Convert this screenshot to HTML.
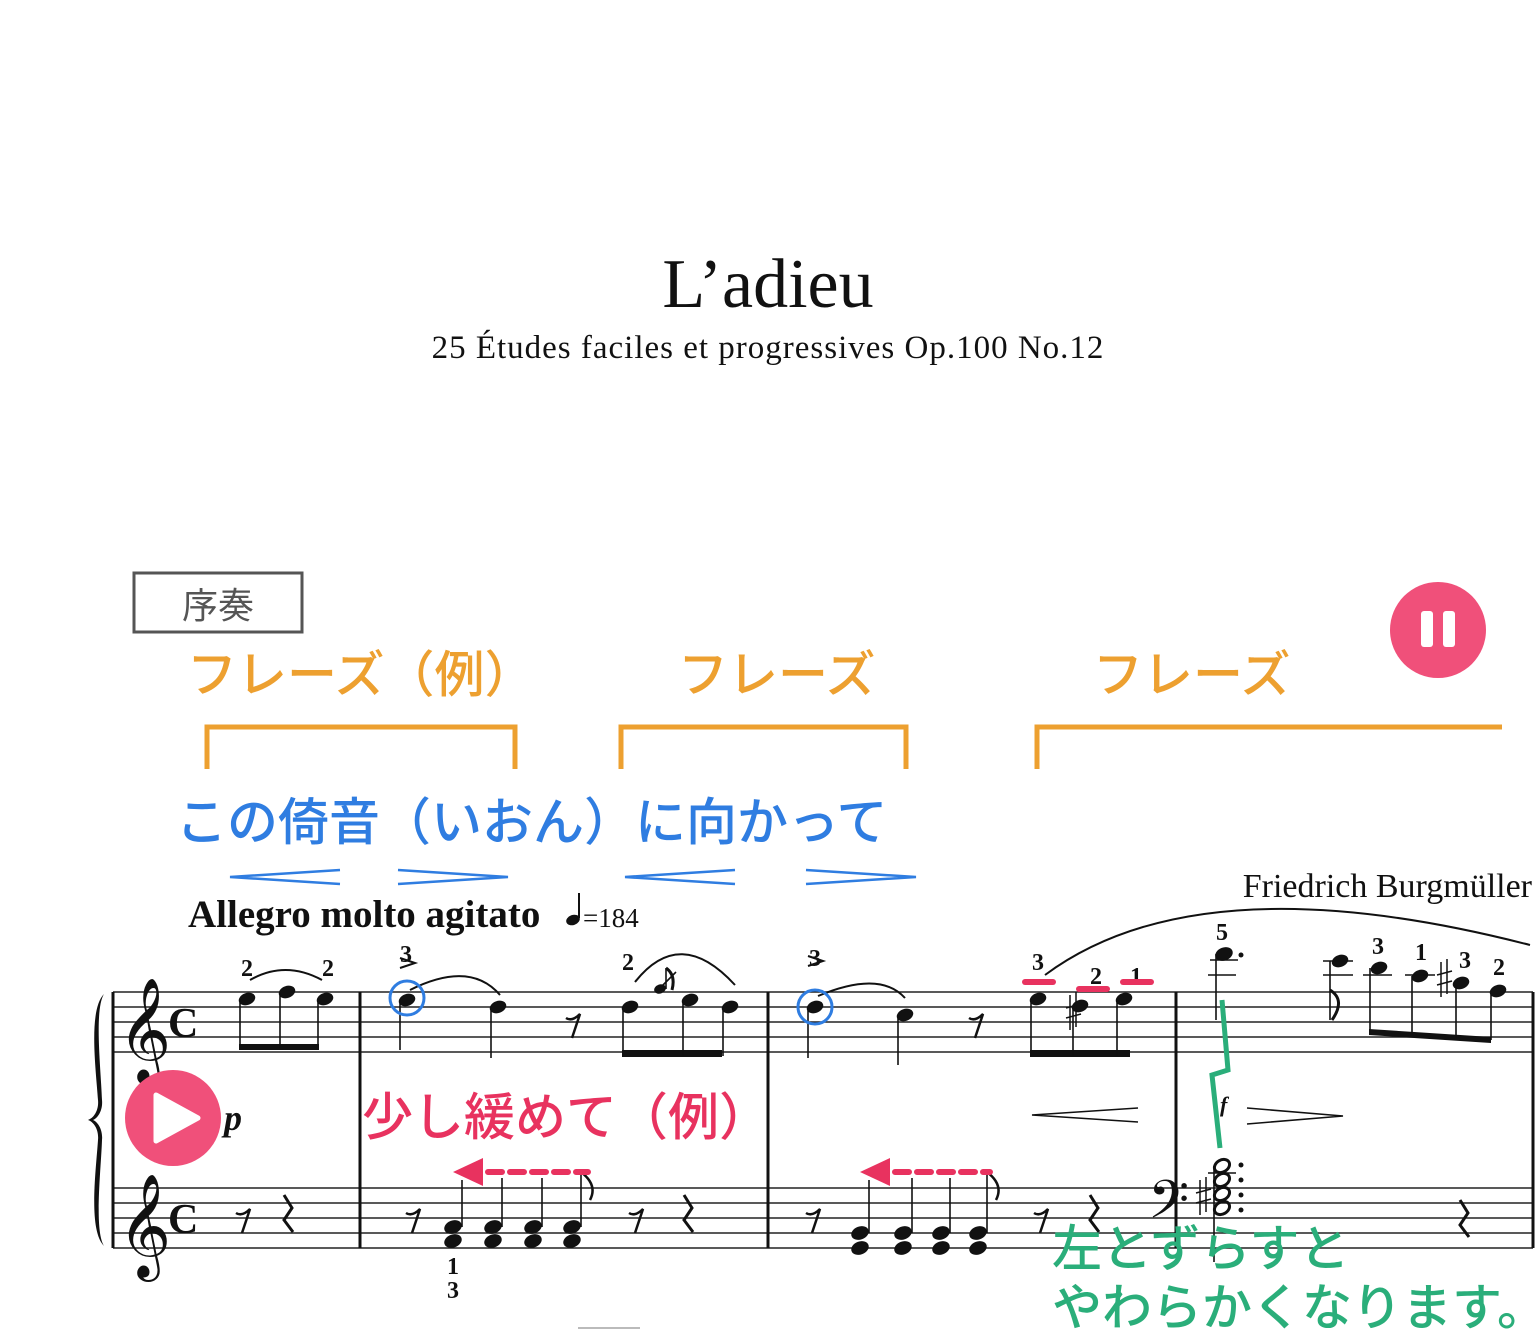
<!DOCTYPE html>
<html><head><meta charset="utf-8"><style>
html,body{margin:0;padding:0;background:#fff;}
svg{display:block;}
.s{font-family:"Liberation Serif",serif;}
.j{font-family:"Liberation Sans","Noto Sans CJK JP",sans-serif;}
.fg{font-family:"Liberation Serif",serif;font-weight:bold;font-size:24px;}
</style></head><body>
<svg width="1536" height="1329" viewBox="0 0 1536 1329" xmlns="http://www.w3.org/2000/svg">
<text x="768" y="307" class="s" font-size="70" text-anchor="middle" fill="#111">L’adieu</text>
<text x="768" y="358" class="s" font-size="33" text-anchor="middle" fill="#111" letter-spacing="1">25 Études faciles et progressives Op.100 No.12</text>

<rect x="134" y="573" width="168" height="59" fill="none" stroke="#555" stroke-width="3"/>
<text x="218" y="618" class="j" font-size="36" text-anchor="middle" fill="#555">序奏</text>

<circle cx="1438" cy="630" r="48" fill="#f0507a"/>
<rect x="1421" y="611" width="12" height="36" rx="3" fill="#fff"/>
<rect x="1443" y="611" width="12" height="36" rx="3" fill="#fff"/>

<g class="j" font-size="50" fill="#eda030" font-weight="500">
<text x="187" y="692">フレーズ（例）</text>
<text x="678" y="692">フレーズ</text>
<text x="1093" y="692">フレーズ</text>
</g>
<g fill="none" stroke="#eda030" stroke-width="5">
<path d="M207 769V727H515V769"/>
<path d="M621 769V727H906V769"/>
<path d="M1037 769V727H1502"/>
</g>

<text x="176" y="840" class="j" font-size="51" fill="#2f7de1" font-weight="500">この倚音（いおん）に向かって</text>
<g fill="none" stroke="#2f7de1" stroke-width="2.5">
<path d="M340 870L230 877L340 884"/>
<path d="M398 870L508 877L398 884"/>
<path d="M735 870L625 877L735 884"/>
<path d="M806 870L916 877L806 884"/>
</g>

<text x="188" y="927" class="s" font-size="39" font-weight="bold" fill="#111">Allegro molto agitato</text>
<ellipse cx="573" cy="920" rx="7" ry="5" fill="#111" transform="rotate(-20 573 920)"/>
<line x1="579" y1="918" x2="579" y2="893" stroke="#111" stroke-width="2"/>
<text x="583" y="927" class="s" font-size="27" fill="#111">=184</text>
<text x="1532" y="897" class="s" font-size="34" text-anchor="end" fill="#111">Friedrich Burgmüller</text>

<g stroke="#222" stroke-width="1.6">
<line x1="113" y1="992" x2="1533" y2="992"/><line x1="113" y1="1007" x2="1533" y2="1007"/>
<line x1="113" y1="1022" x2="1533" y2="1022"/><line x1="113" y1="1037" x2="1533" y2="1037"/>
<line x1="113" y1="1052" x2="1533" y2="1052"/>
<line x1="113" y1="1188" x2="1533" y2="1188"/><line x1="113" y1="1203" x2="1533" y2="1203"/>
<line x1="113" y1="1218" x2="1533" y2="1218"/><line x1="113" y1="1233" x2="1533" y2="1233"/>
<line x1="113" y1="1248" x2="1533" y2="1248"/>
</g>
<g stroke="#111" stroke-width="3">
<line x1="113" y1="992" x2="113" y2="1248"/>
<line x1="360" y1="992" x2="360" y2="1248"/>
<line x1="768" y1="992" x2="768" y2="1248"/>
<line x1="1176" y1="992" x2="1176" y2="1248"/>
<line x1="1533" y1="992" x2="1533" y2="1248"/>
</g>
<path d="M104 994C88 1010 96 1070 98 1100C99 1110 94 1118 88 1120C94 1122 99 1130 98 1140C96 1170 88 1230 104 1246C94 1230 101 1170 102 1140C103 1130 98 1122 93 1120C98 1118 103 1110 102 1100C101 1070 94 1010 104 994Z" fill="#111"/>

<g class="s" fill="#111">
<text x="118" y="1060" font-size="90">𝄞</text>
<text x="118" y="1256" font-size="90">𝄞</text>
<text x="168" y="1037" font-size="42" font-weight="bold">C</text>
<text x="168" y="1233" font-size="42" font-weight="bold">C</text>
<text x="1148" y="1228" font-size="64">𝄢</text>
</g>

<g fill="#111">
<ellipse cx="247" cy="999" rx="8.5" ry="6" transform="rotate(-20 247 999)"/><ellipse cx="287" cy="992" rx="8.5" ry="6" transform="rotate(-20 287 992)"/><ellipse cx="325" cy="999" rx="8.5" ry="6" transform="rotate(-20 325 999)"/>
<rect x="239" y="1044" width="80" height="6"/>
<ellipse cx="407" cy="1000" rx="8.5" ry="6" transform="rotate(-20 407 1000)"/><ellipse cx="498" cy="1007" rx="8.5" ry="6" transform="rotate(-20 498 1007)"/>
<ellipse cx="630" cy="1007" rx="8.5" ry="6" transform="rotate(-20 630 1007)"/><ellipse cx="690" cy="1000" rx="8.5" ry="6" transform="rotate(-20 690 1000)"/><ellipse cx="730" cy="1007" rx="8.5" ry="6" transform="rotate(-20 730 1007)"/>
<ellipse cx="660" cy="989" rx="6" ry="4.5" transform="rotate(-20 660 989)"/>
<rect x="622" y="1050" width="100" height="7"/>
<ellipse cx="815" cy="1007" rx="8.5" ry="6" transform="rotate(-20 815 1007)"/><ellipse cx="905" cy="1015" rx="8.5" ry="6" transform="rotate(-20 905 1015)"/>
<ellipse cx="1038" cy="999" rx="8.5" ry="6" transform="rotate(-20 1038 999)"/><ellipse cx="1080" cy="1006" rx="8.5" ry="6" transform="rotate(-20 1080 1006)"/><ellipse cx="1124" cy="999" rx="8.5" ry="6" transform="rotate(-20 1124 999)"/>
<rect x="1030" y="1050" width="100" height="7"/>
<ellipse cx="1224" cy="954" rx="9" ry="6.5" transform="rotate(-20 1224 954)"/><circle cx="1241" cy="955" r="2.5"/>
<ellipse cx="1340" cy="961" rx="8.5" ry="6" transform="rotate(-20 1340 961)"/><ellipse cx="1379" cy="968" rx="8.5" ry="6" transform="rotate(-20 1379 968)"/><ellipse cx="1420" cy="976" rx="8.5" ry="6" transform="rotate(-20 1420 976)"/><ellipse cx="1461" cy="983" rx="8.5" ry="6" transform="rotate(-20 1461 983)"/><ellipse cx="1498" cy="991" rx="8.5" ry="6" transform="rotate(-20 1498 991)"/>
<path d="M1369 1029L1491 1037L1491 1043L1369 1035Z"/>
</g>
<g stroke="#111" stroke-width="1.6">
<line x1="240" y1="999" x2="240" y2="1048"/><line x1="280" y1="992" x2="280" y2="1048"/><line x1="318" y1="999" x2="318" y2="1048"/>
<line x1="400" y1="1000" x2="400" y2="1050"/><line x1="491" y1="1007" x2="491" y2="1058"/>
<line x1="623" y1="1007" x2="623" y2="1056"/><line x1="683" y1="1000" x2="683" y2="1056"/><line x1="723" y1="1007" x2="723" y2="1056"/>
<line x1="666" y1="989" x2="666" y2="968"/>
<line x1="808" y1="1007" x2="808" y2="1058"/><line x1="898" y1="1015" x2="898" y2="1065"/>
<line x1="1031" y1="999" x2="1031" y2="1056"/><line x1="1073" y1="1006" x2="1073" y2="1056"/><line x1="1117" y1="999" x2="1117" y2="1056"/>
<line x1="1216" y1="954" x2="1216" y2="1020"/><line x1="1210" y1="960" x2="1238" y2="960"/><line x1="1208" y1="975" x2="1236" y2="975"/>
<line x1="1330" y1="961" x2="1330" y2="1020"/><line x1="1323" y1="975" x2="1353" y2="975"/><line x1="1323" y1="961" x2="1353" y2="961"/>
<line x1="1370" y1="968" x2="1370" y2="1033"/><line x1="1363" y1="975" x2="1392" y2="975"/>
<line x1="1412" y1="976" x2="1412" y2="1035"/><line x1="1405" y1="975" x2="1435" y2="975"/>
<line x1="1456" y1="983" x2="1456" y2="1038"/><line x1="1491" y1="991" x2="1491" y2="1040"/>
<line x1="656" y1="992" x2="676" y2="972"/>
</g>
<path d="M666 968Q676 975 672 990M1330 990Q1346 1000 1332 1020" fill="none" stroke="#111" stroke-width="3"/>
<g fill="none" stroke="#111" stroke-width="2">
<path d="M250 980Q285 960 322 980"/>
<path d="M410 990Q470 960 500 995"/>
<path d="M635 982Q680 925 735 985"/>
<path d="M818 996Q880 970 905 998"/>
<path d="M1045 975Q1200 860 1530 945"/>
<path d="M400 968L415 963L400 958"/><path d="M808 966L823 961L808 956"/>
</g>
<g stroke="#111" stroke-width="2.5" fill="none">
<path d="M566 1018Q572 1022 580 1014L572 1038"/>
<path d="M969 1018Q975 1022 983 1014L975 1038"/>
<path d="M236 1213Q242 1217 250 1209L242 1233"/>
<path d="M406 1213Q412 1217 420 1209L412 1233"/>
<path d="M629 1213Q635 1217 643 1209L635 1233"/>
<path d="M806 1213Q812 1217 820 1209L812 1233"/>
<path d="M1034 1213Q1040 1217 1048 1209L1040 1233"/>
</g>
<g stroke="#111" stroke-width="3" fill="none">
<path d="M284 1195L292 1208L284 1220L293 1232"/>
<path d="M684 1195L692 1208L684 1220L693 1232"/>
<path d="M1090 1195L1098 1208L1090 1220L1099 1232"/>
<path d="M1460 1200L1468 1213L1460 1225L1469 1237"/>
</g>
<g stroke="#111" stroke-width="1.5">
<path d="M1070 995V1030M1076 992V1027M1066 1008L1081 1004M1066 1018L1081 1014"/>
<path d="M1441 962V997M1447 959V994M1437 975L1452 971M1437 985L1452 981"/>
<path d="M1200 1180V1215M1206 1177V1212M1196 1193L1211 1189M1196 1203L1211 1199"/>
</g>
<g class="fg" fill="#111" text-anchor="middle">
<text x="247" y="976">2</text><text x="328" y="976">2</text>
<text x="406" y="962">3</text><text x="628" y="970">2</text>
<text x="815" y="966">3</text><text x="1038" y="970">3</text><text x="1096" y="984">2</text><text x="1136" y="984">1</text>
<text x="1222" y="940">5</text><text x="1378" y="954">3</text><text x="1421" y="960">1</text><text x="1465" y="968">3</text><text x="1499" y="975">2</text>
<text x="453" y="1274">1</text><text x="453" y="1298">3</text>
</g>
<circle cx="407" cy="998" r="17" fill="none" stroke="#2f7de1" stroke-width="3"/>
<circle cx="815" cy="1007" r="17" fill="none" stroke="#2f7de1" stroke-width="3"/>
<g fill="#e8325f"><rect x="1022" y="979" width="34" height="6" rx="3"/><rect x="1076" y="986" width="34" height="6" rx="3"/><rect x="1120" y="979" width="34" height="6" rx="3"/></g>

<g fill="#111">
<ellipse cx="453" cy="1227" rx="9" ry="6.5" transform="rotate(-20 453 1227)"/><ellipse cx="453" cy="1241" rx="9" ry="6.5" transform="rotate(-20 453 1241)"/>
<ellipse cx="493" cy="1227" rx="9" ry="6.5" transform="rotate(-20 493 1227)"/><ellipse cx="493" cy="1241" rx="9" ry="6.5" transform="rotate(-20 493 1241)"/>
<ellipse cx="533" cy="1227" rx="9" ry="6.5" transform="rotate(-20 533 1227)"/><ellipse cx="533" cy="1241" rx="9" ry="6.5" transform="rotate(-20 533 1241)"/>
<ellipse cx="572" cy="1227" rx="9" ry="6.5" transform="rotate(-20 572 1227)"/><ellipse cx="572" cy="1241" rx="9" ry="6.5" transform="rotate(-20 572 1241)"/>
<ellipse cx="860" cy="1233" rx="9" ry="6.5" transform="rotate(-20 860 1233)"/><ellipse cx="860" cy="1248" rx="9" ry="6.5" transform="rotate(-20 860 1248)"/>
<ellipse cx="903" cy="1233" rx="9" ry="6.5" transform="rotate(-20 903 1233)"/><ellipse cx="903" cy="1248" rx="9" ry="6.5" transform="rotate(-20 903 1248)"/>
<ellipse cx="941" cy="1233" rx="9" ry="6.5" transform="rotate(-20 941 1233)"/><ellipse cx="941" cy="1248" rx="9" ry="6.5" transform="rotate(-20 941 1248)"/>
<ellipse cx="978" cy="1233" rx="9" ry="6.5" transform="rotate(-20 978 1233)"/><ellipse cx="978" cy="1248" rx="9" ry="6.5" transform="rotate(-20 978 1248)"/>
<circle cx="1241" cy="1165" r="2.5"/><circle cx="1241" cy="1180" r="2.5"/><circle cx="1241" cy="1195" r="2.5"/><circle cx="1241" cy="1210" r="2.5"/>
</g>
<g fill="none" stroke="#111" stroke-width="3">
<ellipse cx="1222" cy="1166" rx="8" ry="6" transform="rotate(-30 1222 1166)"/><ellipse cx="1222" cy="1180" rx="8" ry="6" transform="rotate(-30 1222 1180)"/><ellipse cx="1222" cy="1194" rx="8" ry="6" transform="rotate(-30 1222 1194)"/><ellipse cx="1222" cy="1208" rx="8" ry="6" transform="rotate(-30 1222 1208)"/>
</g>
<g stroke="#111" stroke-width="1.6">
<line x1="462" y1="1227" x2="462" y2="1180"/><line x1="502" y1="1227" x2="502" y2="1178"/><line x1="542" y1="1227" x2="542" y2="1178"/><line x1="581" y1="1227" x2="581" y2="1172"/>
<line x1="869" y1="1233" x2="869" y2="1180"/><line x1="912" y1="1233" x2="912" y2="1178"/><line x1="950" y1="1233" x2="950" y2="1178"/><line x1="987" y1="1233" x2="987" y2="1172"/>
<line x1="1214" y1="1166" x2="1214" y2="1262"/><line x1="1208" y1="1173" x2="1236" y2="1173"/>
</g>
<path d="M581 1172Q598 1185 590 1200M987 1172Q1004 1185 996 1200" fill="none" stroke="#111" stroke-width="2.5"/>

<text x="224" y="1130" class="s" font-size="36" font-style="italic" font-weight="bold" fill="#111">p</text>
<g fill="none" stroke="#111" stroke-width="1.6">
<path d="M1138 1108L1032 1115L1138 1122"/>
<path d="M1247 1108L1343 1116L1247 1124"/>
</g>
<text x="1220" y="1112" class="s" font-size="22" font-style="italic" font-weight="bold" fill="#111">f</text>

<circle cx="173" cy="1118" r="48" fill="#f0507a"/>
<path d="M156 1095L198 1118L156 1141Z" fill="#fff" stroke="#fff" stroke-width="5" stroke-linejoin="round"/>

<text x="362" y="1135" class="j" font-size="51" fill="#e8325f" font-weight="500">少し緩めて（例）</text>
<g fill="#e8325f">
<path d="M453 1172L483 1158L483 1186Z"/><path d="M860 1172L890 1158L890 1186Z"/>
</g>
<g stroke="#e8325f" stroke-width="6" stroke-dasharray="14 8" stroke-linecap="round">
<line x1="488" y1="1172" x2="588" y2="1172"/><line x1="895" y1="1172" x2="990" y2="1172"/>
</g>

<path d="M1222 1000L1228 1070L1212 1075L1220 1148" fill="none" stroke="#2aae7a" stroke-width="5"/>
<g class="j" font-size="50" fill="#2aae7a" font-weight="500">
<text x="1052" y="1266">左とずらすと</text>
<text x="1052" y="1325">やわらかくなります。</text>
</g>
<line x1="578" y1="1328" x2="640" y2="1328" stroke="#bbb" stroke-width="2"/>
</svg>
</body></html>
